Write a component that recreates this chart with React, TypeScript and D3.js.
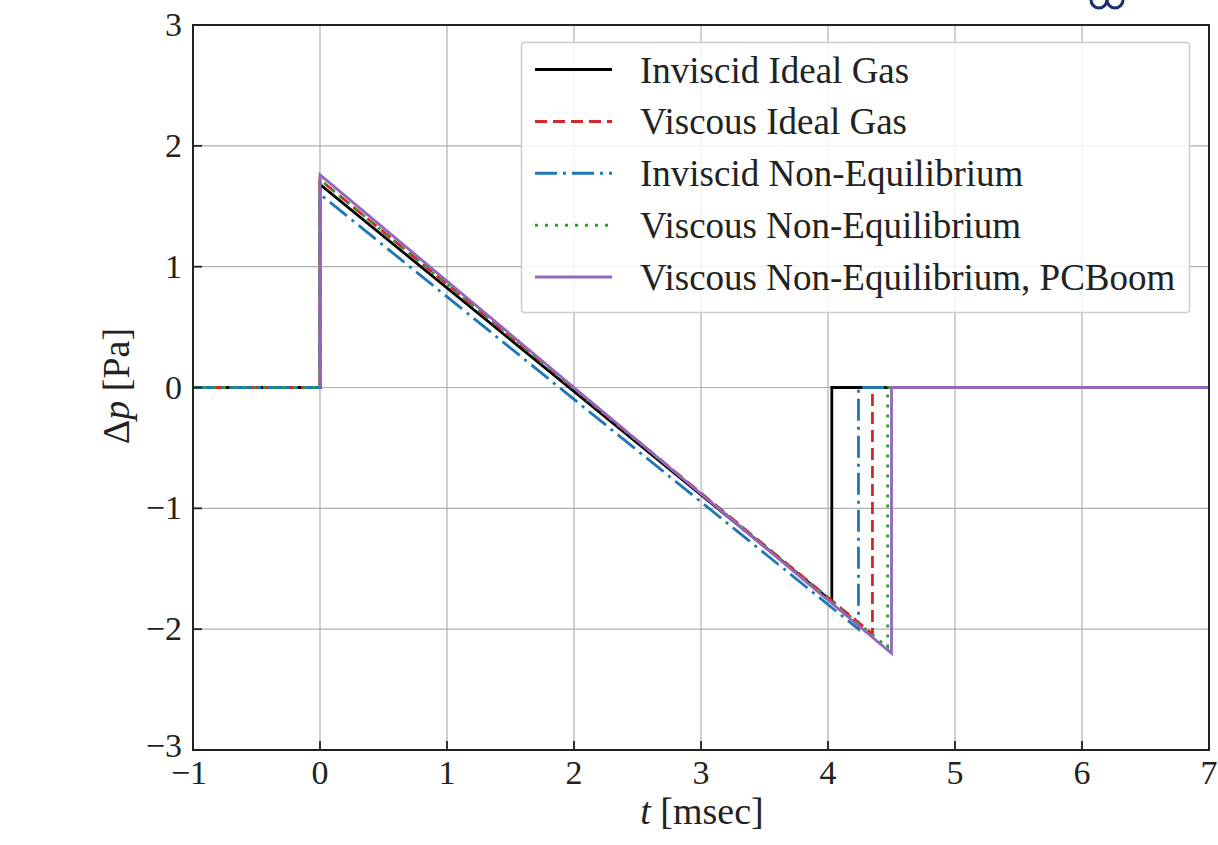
import React from "react";
import * as d3 from "d3";

const seriesNames = [
  "Inviscid Ideal Gas",
  "Viscous Ideal Gas",
  "Inviscid Non-Equilibrium",
  "Viscous Non-Equilibrium",
  "Viscous Non-Equilibrium, PCBoom",
];
const seriesColors = ["#000000", "#d62728", "#1f77b4", "#2ca02c", "#9467bd"];
const seriesDash = ["", "12,6", "22,6,3,6", "3,7", ""];
// N-wave parameters
const startTimes = [-1, -1, -1, -1, 0];
const riseTimes = [0, 0, 0, 0, 0];
const peakValues = [1.68, 1.72, 1.6, 1.72, 1.76];
const shockTimes = [4.03, 4.35, 4.24, 4.47, 4.5];
const troughValues = [-1.77, -2.04, -2.0, -2.15, -2.2];
const endTimes = [7, 7, 7, 7, 7];

const xTicks = [-1, 0, 1, 2, 3, 4, 5, 6, 7];
const yTicks = [-3, -2, -1, 0, 1, 2, 3];

const fmt = (v: number) => (v < 0 ? "\u2212" + Math.abs(v) : String(v));

export default function App() {
  const x = d3.scaleLinear().domain([-1, 7]).range([193, 1209]);
  const y = d3.scaleLinear().domain([-3, 3]).range([750, 25]);
  const line = d3
    .line<[number, number]>()
    .x((d) => x(d[0]))
    .y((d) => y(d[1]));

  const series = seriesNames.map((name, i) => {
    const pts: [number, number][] = [
      [startTimes[i], 0],
      [riseTimes[i], 0],
      [riseTimes[i], peakValues[i]],
      [shockTimes[i], troughValues[i]],
      [shockTimes[i], 0],
      [endTimes[i], 0],
    ];
    return { name, pts, color: seriesColors[i], dash: seriesDash[i] };
  });

  const font = "'Liberation Serif', 'Times New Roman', serif";
  const legendX = 521.5;
  const legendY = 42.5;
  const rowH = 51.9;

  return (
    <svg
      width={1218}
      height={845}
      style={{ position: "absolute", left: 0, top: 0, background: "#fff" }}
      fontFamily={font}
    >
      {/* small logo artifact top right */}
      <g fill="none" stroke="#1b2f6b" strokeWidth={3}>
        <ellipse cx={1099} cy={0} rx={8} ry={8} />
        <ellipse cx={1115} cy={0} rx={8} ry={8} />
      </g>
      <defs>
        <clipPath id="plotclip">
          <rect x={193} y={25} width={1016} height={725} />
        </clipPath>
      </defs>
      {/* grid */}
      <g stroke="#b0b0b0" strokeWidth={1.2}>
        {xTicks.map((t) => (
          <line key={"gx" + t} x1={x(t)} x2={x(t)} y1={y(3)} y2={y(-3)} />
        ))}
        {yTicks.map((t) => (
          <line key={"gy" + t} x1={x(-1)} x2={x(7)} y1={y(t)} y2={y(t)} />
        ))}
      </g>
      {/* series */}
      <g clipPath="url(#plotclip)" fill="none">
        {series.map((s) => (
          <path
            key={s.name}
            d={line(s.pts) || ""}
            stroke={s.color}
            strokeWidth={2.8}
            strokeDasharray={s.dash || undefined}
            strokeLinejoin="miter"
          />
        ))}
      </g>
      {/* frame */}
      <rect
        x={x(-1)}
        y={y(3)}
        width={x(7) - x(-1)}
        height={y(-3) - y(3)}
        fill="none"
        stroke="#222"
        strokeWidth={2}
      />
      {/* ticks */}
      <g stroke="#222" strokeWidth={1.8}>
        {xTicks.map((t) => (
          <line key={"tx" + t} x1={x(t)} x2={x(t)} y1={y(-3)} y2={y(-3) - 9} />
        ))}
        {yTicks.map((t) => (
          <line key={"ty" + t} x1={x(-1)} x2={x(-1) + 9} y1={y(t)} y2={y(t)} />
        ))}
      </g>
      {/* tick labels */}
      <g fontSize={34} fill="#222">
        {xTicks.map((t) => (
          <text key={"lx" + t} x={x(t) - (t < 0 ? 4 : 0)} y={784} textAnchor="middle">
            {fmt(t)}
          </text>
        ))}
        {yTicks.map((t) => (
          <text key={"ly" + t} x={182} y={y(t) + 11 - (t === -3 ? 4 : 0)} textAnchor="end">
            {fmt(t)}
          </text>
        ))}
      </g>
      {/* axis labels */}
      <text x={702} y={824} fontSize={38} textAnchor="middle" fill="#222">
        <tspan fontStyle="italic">t</tspan> [msec]
      </text>
      <text
        transform={`translate(129,386) rotate(-90)`}
        fontSize={38}
        textAnchor="middle"
        fill="#222"
      >
        Δ<tspan fontStyle="italic">p</tspan> [Pa]
      </text>
      {/* legend */}
      <rect
        x={legendX}
        y={legendY}
        width={668}
        height={270}
        rx={3}
        fill="#fff"
        fillOpacity={0.85}
        stroke="#cccccc"
        strokeWidth={1.5}
      />
      {series.map((s, i) => {
        const cy = 69.5 + i * rowH;
        return (
          <g key={"leg" + i}>
            <line
              x1={535}
              x2={612}
              y1={cy}
              y2={cy}
              stroke={s.color}
              strokeWidth={3}
              strokeDasharray={s.dash || undefined}
            />
            <text x={640} y={cy + 13} fontSize={37} fill="#222">
              {s.name}
            </text>
          </g>
        );
      })}
    </svg>
  );
}
